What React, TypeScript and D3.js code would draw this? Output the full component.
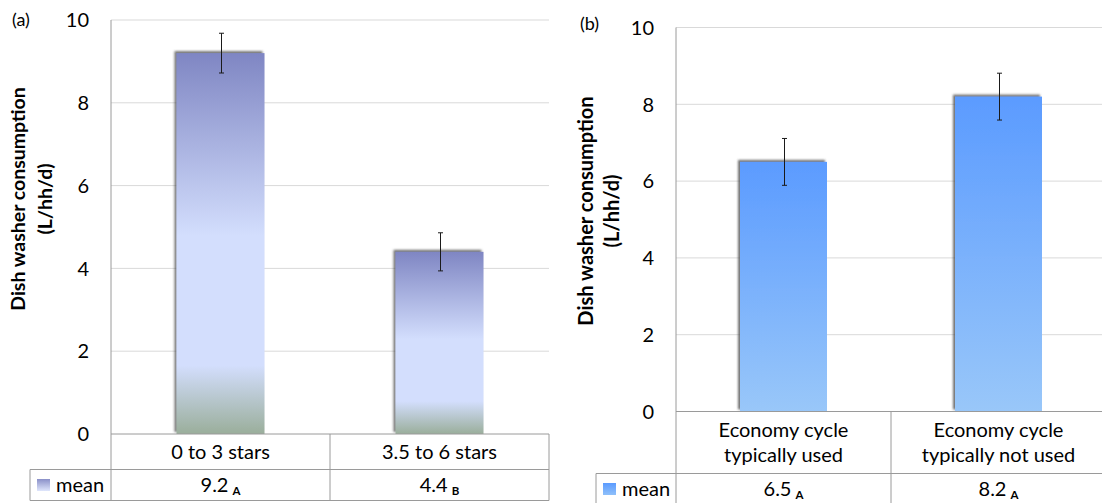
import React, { useEffect } from "react";
import * as d3 from "d3";

const catsA: string[][] = [["0 to 3 stars"], ["3.5 to 6 stars"]];
const meansA = [9.2, 4.4];
const errA = [0.48, 0.46];
const lettersA = ["A", "B"];

const catsB: string[][] = [
  ["Economy cycle", "typically used"],
  ["Economy cycle", "typically not used"],
];
const meansB = [6.5, 8.2];
const errB = [0.61, 0.61];
const lettersB = ["A", "A"];

const yTicks = [0, 2, 4, 6, 8, 10];
const yTitle = ["Dish washer consumption", "(L/hh/d)"];
const seriesName = "mean";

const FONT = "Lato, 'Open Sans', sans-serif";

type PanelCfg = {
  label: string;
  labelX: number;
  labelY: number;
  left: number;
  bandRight: number;
  gridRight: number;
  top: number;
  bottom: number;
  tableLeft: number;
  catRowBottom: number;
  meanRowBottom: number;
  tableRight: number | null;
  tickRight: number;
  titleX: [number, number];
  titleY: number;
  titleSize: number;
  catBaseline: number;
  catLineH: number;
  meanBaseline: number;
  cats: string[][];
  means: number[];
  errs: number[];
  letters: string[];
  gradId: string;
  barW: number;
};

function Panel({ c }: { c: PanelCfg }) {
  const y = d3.scaleLinear().domain([0, 10]).range([c.bottom, c.top]);
  const x = d3
    .scaleBand<number>()
    .domain(c.cats.map((_, i) => i))
    .range([c.left, c.bandRight])
    .paddingInner(0)
    .paddingOuter(0);
  const bw = x.bandwidth();
  const gridRight = c.gridRight;
  const lineCol = "#9a9a9a";
  return (
    <g>
      <text x={c.labelX} y={c.labelY} fontSize={18} fontFamily={FONT} fill="#000">
        {c.label}
      </text>
      {yTicks.filter((t) => t > 0).map((t) => (
        <line key={t} x1={c.left} x2={gridRight} y1={y(t)} y2={y(t)} stroke="#d9d9d9" strokeWidth={1} />
      ))}
      {yTicks.map((t) => (
        <text key={t} x={c.tickRight} y={y(t)} dy="0.36em" textAnchor="end" fontSize={20} fontFamily={FONT} fill="#000">
          {t}
        </text>
      ))}
      {yTitle.map((s, i) => (
        <text
          key={i}
          transform={`translate(${c.titleX[i]},${c.titleY}) rotate(-90)`}
          textAnchor="middle"
          fontSize={c.titleSize}
          fontWeight="bold"
          fontFamily={FONT}
          fill="#000"
        >
          {s}
        </text>
      ))}
      {c.means.map((m, i) => {
        const cx = (x(i) as number) + bw / 2;
        return (
          <rect
            key={i}
            x={cx - c.barW / 2}
            y={y(m)}
            width={c.barW}
            height={y(0) - y(m)}
            fill={`url(#${c.gradId})`}
            filter="url(#barShadow)"
          />
        );
      })}
      <line x1={c.left} x2={c.left} y1={c.top} y2={c.meanRowBottom} stroke={lineCol} />
      <line x1={c.left} x2={gridRight} y1={c.bottom} y2={c.bottom} stroke={lineCol} />
      <line x1={c.tableLeft} x2={gridRight} y1={c.catRowBottom} y2={c.catRowBottom} stroke={lineCol} />
      <line x1={c.tableLeft} x2={gridRight} y1={c.meanRowBottom} y2={c.meanRowBottom} stroke={lineCol} />
      <line x1={c.tableLeft} x2={c.tableLeft} y1={c.catRowBottom} y2={c.meanRowBottom} stroke={lineCol} />
      {c.cats.map((_, i) =>
        i > 0 ? (
          <line key={i} x1={x(i) as number} x2={x(i) as number} y1={c.bottom} y2={c.meanRowBottom} stroke={lineCol} />
        ) : null
      )}
      {c.tableRight !== null && (
        <line x1={c.tableRight} x2={c.tableRight} y1={c.bottom} y2={c.meanRowBottom} stroke={lineCol} />
      )}
      {c.means.map((m, i) => {
        const cx = Math.round((x(i) as number) + bw / 2) + 0.5;
        const e = c.errs[i];
        return (
          <g key={i} stroke="#1a1a1a" strokeWidth={1}>
            <line x1={cx} x2={cx} y1={y(m + e)} y2={y(m - e)} />
            <line x1={cx - 2.5} x2={cx + 2.5} y1={y(m + e)} y2={y(m + e)} />
            <line x1={cx - 2.5} x2={cx + 2.5} y1={y(m - e)} y2={y(m - e)} />
          </g>
        );
      })}
      {c.cats.map((lines, i) => {
        const cx = (x(i) as number) + bw / 2;
        return (
          <text key={i} x={cx} y={c.catBaseline} textAnchor="middle" fontSize={20} fontFamily={FONT} fill="#000">
            {lines.map((s, j) => (
              <tspan key={j} x={cx} y={c.catBaseline + j * c.catLineH}>
                {s}
              </tspan>
            ))}
          </text>
        );
      })}
      <rect x={c.tableLeft + 7} y={c.meanBaseline - 13} width={13} height={12} fill={`url(#${c.gradId}Key)`} />
      <text x={c.tableLeft + 26} y={c.meanBaseline} fontSize={20} fontFamily={FONT} fill="#000">
        {seriesName}
      </text>
      {c.means.map((m, i) => {
        const cx = (x(i) as number) + bw / 2;
        return (
          <text key={i} x={cx} y={c.meanBaseline} textAnchor="middle" fontSize={20} fontFamily={FONT} fill="#000">
            {d3.format(".1f")(m)}
            <tspan fontSize={11.5} fontWeight="bold" dy={3} dx={4}>
              {c.letters[i]}
            </tspan>
          </text>
        );
      })}
    </g>
  );
}

export default function App() {
  useEffect(() => {
    document.body.style.margin = "0";
  }, []);
  const W = 1102;
  const H = 503;
  const panelA: PanelCfg = {
    label: "(a)",
    labelX: 12,
    labelY: 26,
    left: 111,
    bandRight: 549,
    gridRight: 549,
    top: 20,
    bottom: 434,
    tableLeft: 30,
    catRowBottom: 469.5,
    meanRowBottom: 500.5,
    tableRight: 549,
    tickRight: 89,
    titleX: [25, 52],
    titleY: 199,
    titleSize: 19.5,
    catBaseline: 459,
    catLineH: 25,
    meanBaseline: 492,
    cats: catsA,
    means: meansA,
    errs: errA,
    letters: lettersA,
    gradId: "gradA",
    barW: 88,
  };
  const panelB: PanelCfg = {
    label: "(b)",
    labelX: 580,
    labelY: 30,
    left: 676,
    bandRight: 1106,
    gridRight: 1102,
    top: 27.5,
    bottom: 411.5,
    tableLeft: 596,
    catRowBottom: 473.5,
    meanRowBottom: 506,
    tableRight: null,
    tickRight: 654,
    titleX: [593, 619],
    titleY: 211,
    titleSize: 20,
    catBaseline: 437,
    catLineH: 25,
    meanBaseline: 496,
    cats: catsB,
    means: meansB,
    errs: errB,
    letters: lettersB,
    gradId: "gradB",
    barW: 87,
  };
  return (
    <svg width={W} height={H} style={{ position: "absolute", left: 0, top: 0, background: "#fff" }}>
      <defs>
        <linearGradient id="gradA" x1="0" y1="0" x2="0" y2="1">
          <stop offset="0" stopColor="#7f86c3" />
          <stop offset="0.48" stopColor="#d3defd" />
          <stop offset="0.82" stopColor="#d3defd" />
          <stop offset="1" stopColor="#9aae9b" />
        </linearGradient>
        <linearGradient id="gradAKey" x1="0" y1="0" x2="0" y2="1">
          <stop offset="0" stopColor="#8a90c8" />
          <stop offset="1" stopColor="#dfe6fc" />
        </linearGradient>
        <linearGradient id="gradB" x1="0" y1="0" x2="0" y2="1">
          <stop offset="0" stopColor="#5b9bff" />
          <stop offset="1" stopColor="#99c7f9" />
        </linearGradient>
        <linearGradient id="gradBKey" x1="0" y1="0" x2="0" y2="1">
          <stop offset="0" stopColor="#5b9bff" />
          <stop offset="1" stopColor="#8fc0fa" />
        </linearGradient>
        <filter id="barShadow" x="-20%" y="-20%" width="140%" height="140%">
          <feDropShadow dx={-2} dy={-2} stdDeviation={1.3} floodColor="#444" floodOpacity={0.75} />
        </filter>
      </defs>
      <Panel c={panelA} />
      <Panel c={panelB} />
    </svg>
  );
}
